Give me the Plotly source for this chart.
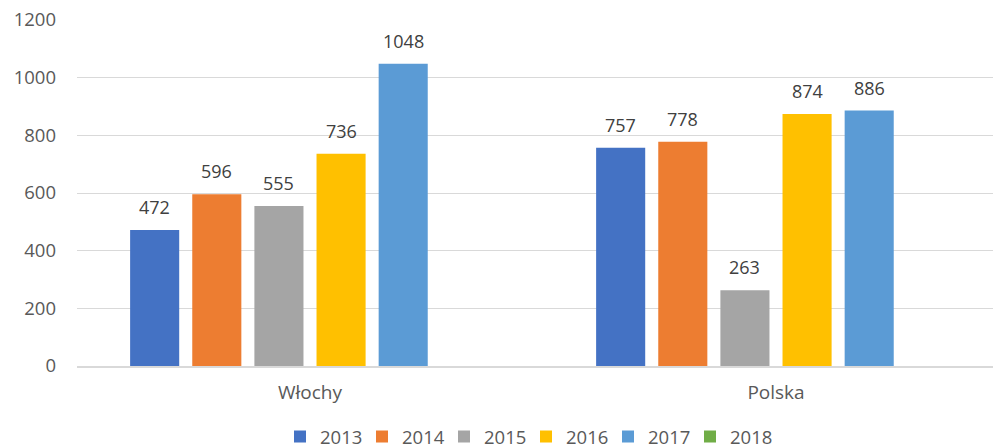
import plotly.graph_objects as go

categories = ["Włochy", "Polska"]
years = ["2013", "2014", "2015", "2016", "2017", "2018"]
values = {
    "2013": [472, 757],
    "2014": [596, 778],
    "2015": [555, 263],
    "2016": [736, 874],
    "2017": [1048, 886],
    "2018": [None, None],
}
colors = ["#4472C4", "#ED7D31", "#A5A5A5", "#FFC000", "#5B9BD5", "#70AD47"]
y_ticks = [0, 200, 400, 600, 800, 1000, 1200]

FONT = "Open Sans"
BARGAP = 0.2
W = 1009  # chart is wider than the window; right part is cropped like the reference

fig = go.Figure()
for yr, col in zip(years, colors):
    fig.add_trace(go.Bar(
        name=yr,
        x=categories,
        y=values[yr],
        marker=dict(color=col, line=dict(width=0)),
    ))

# data labels placed above each bar, at the centre of its group slot
n = len(years)
slot = (1 - BARGAP) / n
annotations = []
for i, yr in enumerate(years):
    for ci, v in enumerate(values[yr]):
        if v is None:
            continue
        annotations.append(dict(
            x=ci - (1 - BARGAP) / 2 + (i + 0.5) * slot, y=v,
            xref="x", yref="y", text=str(v), showarrow=False,
            yanchor="bottom", yshift=9,
            font=dict(family=FONT, size=18, color="#404040"),
        ))

fig.update_layout(
    width=W, height=448,
    margin=dict(l=77, r=0, t=20, b=82, autoexpand=False),
    paper_bgcolor="white", plot_bgcolor="white",
    barmode="group", bargap=BARGAP, bargroupgap=0.21,
    font=dict(family=FONT, size=18, color="#595959"),
    showlegend=True,
    annotations=annotations,
    legend=dict(
        orientation="h", xref="container", yref="container",
        x=280 / W, xanchor="left", y=0.0246, yanchor="middle",
        font=dict(family=FONT, size=18.5, color="#595959"),
        itemwidth=30, traceorder="normal",
        entrywidth=37, entrywidthmode="pixels",
    ),
    xaxis=dict(
        range=[-0.5, 1.5],
        showgrid=False, showline=True, linecolor="#d9d9d9", linewidth=1.5,
        ticks="", ticklabelstandoff=8,
        tickfont=dict(family=FONT, size=19, color="#595959"),
    ),
    yaxis=dict(
        range=[0, 1200], tickvals=y_ticks,
        showgrid=True, gridcolor="#d9d9d9", gridwidth=1,
        zeroline=False, showline=False, ticks="",
        ticklabelstandoff=20,
        tickfont=dict(family=FONT, size=18.5, color="#595959"),
    ),
)

fig.write_html(
    "out.html",
    config={"displayModeBar": False},
    post_script=(
        "document.body.style.margin='0';"
        "document.body.style.overflow='hidden';"
        "document.documentElement.style.overflow='hidden';"
    ),
)
